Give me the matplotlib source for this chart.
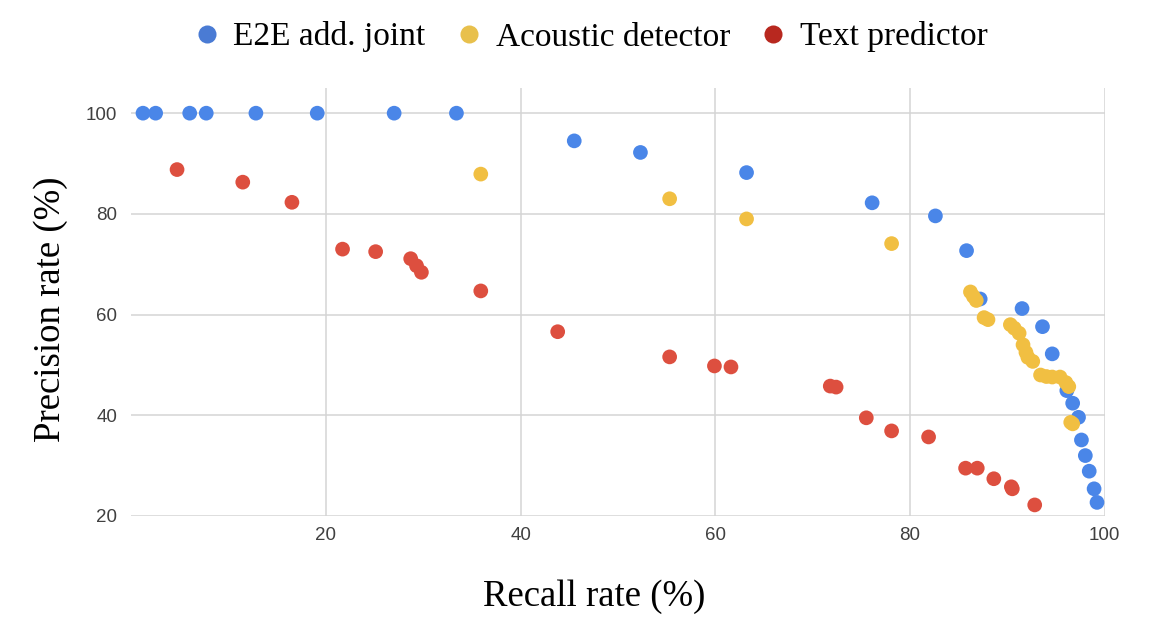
import matplotlib.pyplot as plt
from matplotlib.lines import Line2D

# E2E add. joint (recall %, precision %)
e2e_recall = [1.2, 2.5, 6.0, 7.7, 12.8, 19.1, 27.0, 33.4, 45.5, 52.3, 63.2, 76.1,
              82.6, 85.8, 87.2, 91.5, 93.6, 94.6, 96.1, 96.7, 97.3, 97.6, 98.0,
              98.4, 98.9, 99.2]
e2e_precision = [100, 100, 100, 100, 100, 100, 100, 100, 94.5, 92.2, 88.2, 82.2,
                 79.6, 72.7, 63.1, 61.2, 57.6, 52.2, 44.9, 42.4, 39.6, 35.1, 32.0,
                 28.9, 25.4, 22.7]

# Acoustic detector
acoustic_recall = [35.9, 55.3, 63.2, 78.1, 86.2, 86.5, 86.8, 87.6, 88.0, 90.3,
                   90.7, 91.2, 91.6, 91.9, 92.1, 92.6, 93.4, 94.0, 94.6, 95.4,
                   96.0, 96.3, 96.5, 96.7]
acoustic_precision = [87.9, 83.0, 79.0, 74.1, 64.5, 63.6, 62.8, 59.4, 59.0, 58.0,
                      57.3, 56.3, 54.0, 52.5, 51.5, 50.7, 48.0, 47.7, 47.6, 47.6,
                      46.5, 45.7, 38.6, 38.3]

# Text predictor
text_recall = [4.7, 11.45, 16.5, 21.7, 25.1, 28.7, 29.3, 29.8, 35.9, 43.8, 55.3,
               59.9, 61.6, 71.8, 72.4, 75.5, 78.1, 81.9, 85.7, 86.9, 88.6, 90.4,
               90.5, 92.8]
text_precision = [88.8, 86.3, 82.3, 73.0, 72.5, 71.1, 69.7, 68.4, 64.7, 56.6, 51.6,
                  49.8, 49.6, 45.8, 45.6, 39.5, 36.9, 35.7, 29.5, 29.5, 27.4, 25.8,
                  25.4, 22.2]

labels = ["E2E add. joint", "Acoustic detector", "Text predictor"]
point_colors = ["#4a86e8", "#f1bf42", "#dd4f3f"]
legend_colors = ["#4a7bd4", "#e8c04c", "#b8281f"]

W, H = 1158, 622
fig = plt.figure(figsize=(W / 100, H / 100), dpi=100)
ax = fig.add_axes([131.3 / W, 1 - 516 / H, (1104.8 - 131.3) / W, (516 - 88) / H])

series = [(e2e_recall, e2e_precision), (acoustic_recall, acoustic_precision),
          (text_recall, text_precision)]
for i, (xs, ys) in enumerate(series):
    ax.scatter(xs, ys, s=112, color=point_colors[i], edgecolors="none",
               zorder=3 + i, clip_on=False)

ax.set_xlim(0, 100)
ax.set_ylim(20, 105)
ax.set_xticks([20, 40, 60, 80, 100])
ax.set_yticks([20, 40, 60, 80, 100])
ax.grid(True, color="#d4d4d4", linewidth=1.1)
ax.set_axisbelow(True)
for sp in ax.spines.values():
    sp.set_visible(False)
ax.tick_params(length=0, labelsize=13.5, labelcolor="#404040", pad=8)
ax.tick_params(axis="y", pad=10)
for lab in ax.get_xticklabels() + ax.get_yticklabels():
    lab.set_fontfamily("Liberation Sans")

serif = "Liberation Serif"
fig.text(594 / W, 1 - 597 / H, "Recall rate (%)", fontsize=26.5, family=serif,
         ha="center", va="center")
fig.text(51 / W, 1 - 309 / H, "Precision rate (%)", fontsize=26.5, family=serif,
         ha="center", va="center", rotation=90)

handles = [Line2D([], [], marker="o", linestyle="none", markersize=13,
                  markerfacecolor=c, markeredgecolor="none") for c in legend_colors]
fig.legend(handles, labels, loc="center", bbox_to_anchor=(589 / W, 1 - 37 / H),
           ncol=3, frameon=False, prop={"family": serif, "size": 24},
           handletextpad=0.3, columnspacing=0.8, handlelength=1.0)

fig.savefig("out.png", dpi=100)
